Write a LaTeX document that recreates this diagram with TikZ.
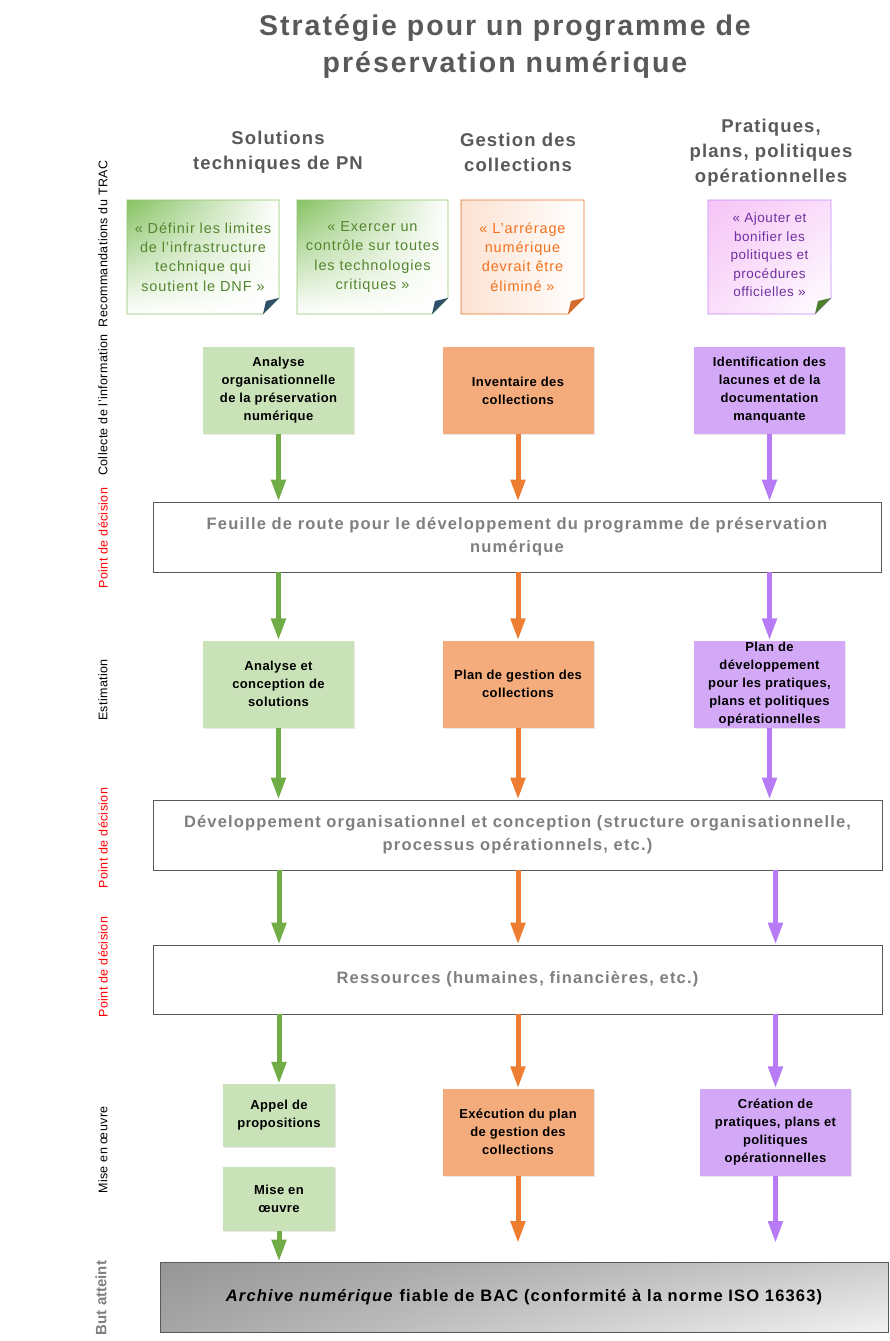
\documentclass[tikz,border=0pt]{standalone}
\usepackage{fontspec}
\setmainfont{Liberation Sans}
\usetikzlibrary{arrows.meta,shadows,shadings}
\definecolor{titlegray}{HTML}{595959}
\definecolor{boxgray}{HTML}{7F7F7F}
\definecolor{gfill}{HTML}{C9E2B8}
\definecolor{ofill}{HTML}{F4AC7D}
\definecolor{pfill}{HTML}{D3A9F7}
\definecolor{garr}{HTML}{70AD47}
\definecolor{oarr}{HTML}{ED7D31}
\definecolor{parr}{HTML}{B77CF5}
\definecolor{gnote}{HTML}{8DC66E}
\definecolor{gnotetop}{HTML}{86C262}
\definecolor{gtext}{HTML}{55862F}
\definecolor{onote}{HTML}{E2762C}
\definecolor{otext}{HTML}{F2711C}
\definecolor{pnote}{HTML}{C58CFA}
\definecolor{ptext}{HTML}{7030A0}
\definecolor{gfold}{HTML}{2F4F6B}
\definecolor{ofold}{HTML}{D36C2C}
\definecolor{pfold}{HTML}{4E7F2E}
\definecolor{redlab}{HTML}{FF0000}
\definecolor{pinkA}{HTML}{F6C4F6}
\definecolor{pinkB}{HTML}{FADEFA}
\definecolor{finA}{HTML}{969696}
\definecolor{finB}{HTML}{A5A5A5}
\definecolor{finC}{HTML}{CDCDCD}
\definecolor{finD}{HTML}{F2F2F2}
\definecolor{peach}{HTML}{FCE2D2}
\newcommand{\lsp}[1]{\addfontfeature{LetterSpace=#1}}
\tikzset{
  hdr/.style={font=\fontsize{18.5}{25}\selectfont\bfseries\lsp{6}, text=titlegray, align=center},
  notetxt/.style={font=\fontsize{14.5}{19.3}\selectfont\lsp{6}, align=center},
  ptxt/.style={font=\fontsize{13.5}{18.5}\selectfont\lsp{4}, align=center},
  cbox/.style={minimum width=151pt, minimum height=87pt, align=center, inner sep=0pt,
    font=\fontsize{13}{18}\selectfont\bfseries\lsp{3}, text=black,
    drop shadow={opacity=0.18, shadow xshift=1.2pt, shadow yshift=-1.2pt}},
  gbox/.style={cbox, fill=gfill},
  obox/.style={cbox, fill=ofill},
  pbox/.style={cbox, fill=pfill},
  bigbox/.style={draw=titlegray, line width=0.9pt, fill=white, minimum height=70pt, align=center,
    inner sep=0pt, font=\fontsize{16.5}{23}\selectfont\bfseries\lsp{7}, text=boxgray,
    drop shadow={opacity=0.18, shadow xshift=1.2pt, shadow yshift=-1.2pt}},
  lab/.style={rotate=90, font=\fontsize{12.5}{14}\selectfont\lsp{3}, text=black},
  redl/.style={lab, text=redlab},
  arr/.style={line width=5pt, -{Triangle[width=14pt,length=22pt]}},
  arrG/.style={arr, draw=garr},
  arrO/.style={arr, draw=oarr},
  arrP/.style={arr, draw=parr},
}
\begin{document}
\begin{tikzpicture}[x=1pt,y=-1pt]
\useasboundingbox[fill=white] (0,0) rectangle (890,1341);

% Title
\node[font=\fontsize{28.5}{37}\selectfont\bfseries\lsp{7}, text=titlegray, align=center] (title) at (505,46.5)
  {Stratégie pour un programme de\\préservation numérique};

% Column headers
\node[hdr] (h1) at (278,152.5) {Solutions\\techniques de PN};
\node[hdr] (h2) at (518,152.5) {Gestion des\\collections};
\node[hdr] (h3) at (771,153) {Pratiques,\\plans, politiques\\opérationnelles};

% Left labels
\node[lab] (l1) at (103,244) {Recommandations du TRAC};
\node[lab] (l2) at (103,405) {Collecte de l'information};
\node[redl] (l3) at (103,538) {Point de décision};
\node[lab] (l4) at (103,690) {Estimation};
\node[redl] (l5) at (103,838) {Point de décision};
\node[redl] (l6) at (103,967) {Point de décision};
\node[lab] (l7) at (103,1150) {Mise en œuvre};
\node[lab, font=\fontsize{15}{17}\selectfont\bfseries, text=boxgray] (l8) at (101,1298) {But atteint};

% Notes
% note 1
\shade[upper left=gnotetop, upper right=white, lower left=white, lower right=white]
  (127,200) -- (279,200) -- (279,298) -- (263,314) -- (127,314) -- cycle;
\draw[gnote, line width=0.9pt] (127,200) -- (279,200) -- (279,298) -- (263,314) -- (127,314) -- cycle;
\fill[gfold] (263,314) -- (279,298) -- (266,301) -- cycle;
\node[notetxt, text=gtext] (n1) at (203,257) {« Définir les limites\\de l'infrastructure\\technique qui\\soutient le DNF »};
% note 2
\shade[upper left=gnotetop, upper right=white, lower left=white, lower right=white]
  (297,200) -- (448,200) -- (448,298) -- (432,314) -- (297,314) -- cycle;
\draw[gnote, line width=0.9pt] (297,200) -- (448,200) -- (448,298) -- (432,314) -- (297,314) -- cycle;
\fill[gfold] (432,314) -- (448,298) -- (435,301) -- cycle;
\node[notetxt, text=gtext] (n2) at (372.5,257) {« Exercer un\\contrôle sur toutes\\les technologies\\critiques »};
% note 3
\shade[left color=peach, right color=white]
  (461,200) -- (584,200) -- (584,298) -- (568,314) -- (461,314) -- cycle;
\draw[onote, line width=0.9pt] (461,200) -- (584,200) -- (584,298) -- (568,314) -- (461,314) -- cycle;
\fill[ofold] (568,314) -- (584,298) -- (571,301) -- cycle;
\node[notetxt, text=otext] (n3) at (522.5,257) {« L’arrérage\\numérique\\devrait être\\éliminé »};
% note 4
\shade[upper left=pinkA, upper right=pinkB, lower left=pinkB, lower right=white]
  (708,200) -- (831,200) -- (831,298) -- (815,314) -- (708,314) -- cycle;
\draw[pnote, line width=0.9pt] (708,200) -- (831,200) -- (831,298) -- (815,314) -- (708,314) -- cycle;
\fill[pfold] (815,314) -- (831,298) -- (818,301) -- cycle;
\node[ptxt, text=ptext] (n4) at (769.5,255) {« Ajouter et\\bonifier les\\politiques et\\procédures\\officielles »};

% Row 1
\node[gbox] (g1) at (278.5,390.5) {Analyse\\organisationnelle\\de la préservation\\numérique};
\node[obox] (o1) at (518,390.5) {Inventaire des\\collections};
\node[pbox] (p1) at (769.5,390.5) {Identification des\\lacunes et de la\\documentation\\manquante};

% Big box 1
\node[bigbox, minimum width=728pt] (b1) at (517,537)
  {Feuille de route pour le développement du programme de préservation\\numérique};

% Row 2
\node[gbox] (g2) at (278.5,684) {Analyse et\\conception de\\solutions};
\node[obox] (o2) at (518,684) {Plan de gestion des\\collections};
\node[pbox] (p2) at (769.5,684) {Plan de\\développement\\pour les pratiques,\\plans et politiques\\opérationnelles};

% Big box 2
\node[bigbox, minimum width=729pt] (b2) at (517.5,835)
  {Développement organisationnel et conception (structure organisationnelle,\\processus opérationnels, etc.)};

% Big box 3
\node[bigbox, minimum width=729pt, minimum height=69pt] (b3) at (517.5,979.5)
  {Ressources (humaines, financières, etc.)};

% Row 3
\node[gbox, minimum width=112pt, minimum height=63pt] (g3) at (279,1115.5) {Appel de\\propositions};
\node[gbox, minimum width=112pt, minimum height=64pt] (g4) at (279,1199) {Mise en\\œuvre};
\node[obox] (o3) at (518,1132) {Exécution du plan\\de gestion des\\collections};
\node[pbox] (p3) at (775.5,1132) {Création de\\pratiques, plans et\\politiques\\opérationnelles};

% Final box
\shade[upper left=finA, lower left=finB, upper right=finC, lower right=finD]
  (160,1262) rectangle (888,1332);
\node[draw=titlegray, line width=0.9pt, minimum width=728pt, minimum height=70pt, inner sep=0pt,
      font=\fontsize{16.5}{20}\selectfont\bfseries\lsp{7}, text=black] (fin) at (524,1297)
  {\textit{Archive numérique} fiable de BAC (conformité à la norme ISO 16363)};

\coordinate (oend) at (518,1243);
\coordinate (pend) at (775.5,1243);

% Arrows
\draw[arrG] (g1.south) -- (g1.south |- b1.north);
\draw[arrO] (o1.south) -- (o1.south |- b1.north);
\draw[arrP] (p1.south) -- (p1.south |- b1.north);

\draw[arrG] (b1.south -| g2.north) -- (g2.north);
\draw[arrO] (b1.south -| o2.north) -- (o2.north);
\draw[arrP] (b1.south -| p2.north) -- (p2.north);

\draw[arrG] (g2.south) -- (g2.south |- b2.north);
\draw[arrO] (o2.south) -- (o2.south |- b2.north);
\draw[arrP] (p2.south) -- (p2.south |- b2.north);

\draw[arrG] (b2.south -| g3.north) -- (g3.north |- b3.north);
\draw[arrO] (b2.south -| o3.north) -- (o3.north |- b3.north);
\draw[arrP] (b2.south -| p3.north) -- (p3.north |- b3.north);

\draw[arrG] (b3.south -| g3.north) -- (g3.north);
\draw[arrO] (b3.south -| o3.north) -- (o3.north);
\draw[arrP] (b3.south -| p3.north) -- (p3.north);

\draw[arrG] (g4.south) -- (g4.south |- fin.north);
\draw[arrO] (o3.south) -- (oend);
\draw[arrP] (p3.south) -- (pend);
\end{tikzpicture}
\end{document}
